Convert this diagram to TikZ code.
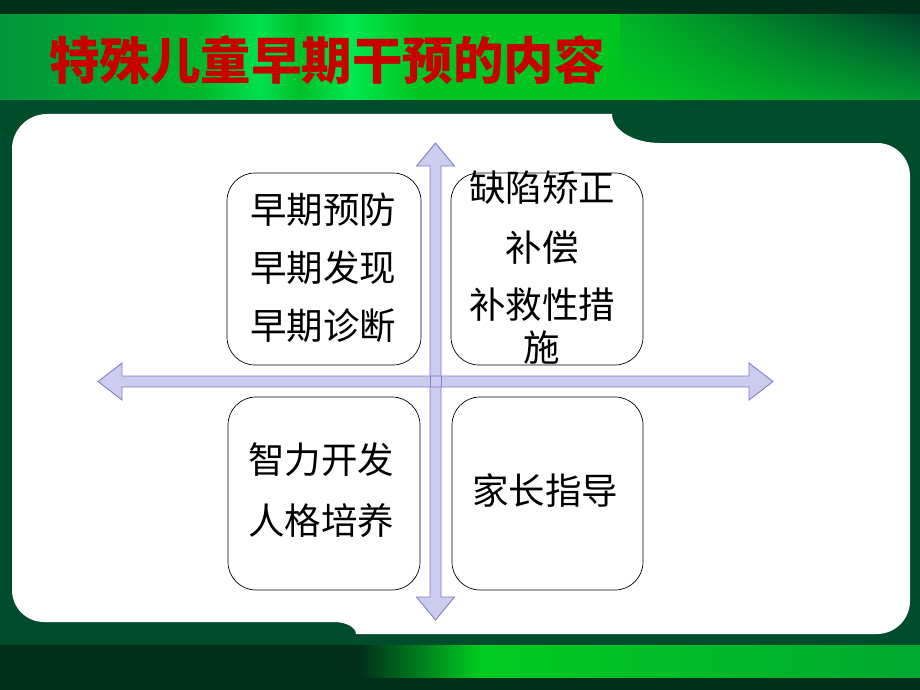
\documentclass[tikz,border=0pt]{standalone}
\usepackage{fontspec}
\usetikzlibrary{shadings}
\newfontfamily\cjk{Noto Sans CJK SC}
\definecolor{topdark}{HTML}{00301A}
\definecolor{paneldark}{HTML}{004D2E}
\definecolor{arrowfill}{HTML}{CCCCEE}
\definecolor{arrowline}{HTML}{7F7FCC}
\definecolor{titlered}{HTML}{C80000}
\begin{document}
\begin{tikzpicture}[x=1pt,y=-1pt,
  arrowshape/.style={fill=arrowfill, draw=arrowline, line width=0.9pt, line join=miter},
  quad/.style={draw=black, line width=0.7pt, fill=white, rounded corners=28pt,
    minimum width=192pt, minimum height=192pt, inner sep=0pt},
  qtext/.style={align=center, inner sep=0pt, text=black}]
\useasboundingbox (0,0) rectangle (920,690);
% background
\fill[topdark] (0,0) rectangle (920,690);
\fill[paneldark] (0,100) rectangle (920,645);
% top green band
\shade[left color={rgb,255:red,0;green,150;blue,60}, right color={rgb,255:red,0;green,184;blue,42}] (0,15) rectangle (200.5,100);
\shade[left color={rgb,255:red,0;green,184;blue,42}, right color={rgb,255:red,0;green,224;blue,80}] (200,15) rectangle (260.5,100);
\shade[left color={rgb,255:red,0;green,224;blue,80}, right color={rgb,255:red,0;green,192;blue,40}] (260,15) rectangle (300.5,100);
\shade[left color={rgb,255:red,0;green,192;blue,40}, right color={rgb,255:red,0;green,232;blue,80}] (300,15) rectangle (350.5,100);
\shade[left color={rgb,255:red,0;green,232;blue,80}, right color={rgb,255:red,0;green,196;blue,32}] (350,15) rectangle (420.5,100);
\shade[left color={rgb,255:red,0;green,196;blue,32}, right color={rgb,255:red,0;green,196;blue,32}] (420,15) rectangle (620.5,100);
\shade[upper left={rgb,255:red,0;green,180;blue,40}, lower left={rgb,255:red,0;green,200;blue,32},
       upper right={rgb,255:red,0;green,64;blue,44}, lower right={rgb,255:red,0;green,150;blue,50}] (620,15) rectangle (920,100);
% bottom green band
\shade[left color=topdark, right color={rgb,255:red,0;green,204;blue,32}] (360,645) rectangle (480.5,677);
\shade[left color={rgb,255:red,0;green,204;blue,32}, right color={rgb,255:red,0;green,168;blue,48}] (480,645) rectangle (920,677);
% white panel
\fill[white] (47,114) -- (612,114)
  .. controls (612,130) and (633.5,143) .. (660,143)
  -- (877,143) .. controls (895.2,143) and (910,157.8) .. (910,176)
  -- (910,601) .. controls (910,619.2) and (895.2,634) .. (877,634)
  -- (356,634) .. controls (356,627.4) and (346.2,622) .. (334,622)
  -- (44,622) .. controls (26.3,622) and (12,607.7) .. (12,590)
  -- (12,149) .. controls (12,129.7) and (27.7,114) .. (47,114) -- cycle;
% title
\node[anchor=west, text=titlered, font=\cjk\bfseries\fontsize{50.5}{50.5}\selectfont, inner sep=0pt] (title) at (49,60) {特殊儿童早期干预的内容};
% axes (block arrows)
\coordinate (vtop) at (435.5,143);
\coordinate (vbot) at (435.5,620);
\coordinate (hleft) at (98,381.5);
\coordinate (hright) at (773,381.5);
\path[arrowshape] (vtop) -- (454.5,166) -- (441,166) -- (441,597) -- (454.5,597) -- (vbot)
  -- (416.5,597) -- (430,597) -- (430,166) -- (416.5,166) -- cycle;
\path[arrowshape] (hleft) -- (122,363) -- (122,376) -- (749,376) -- (749,363) -- (hright)
  -- (749,400) -- (749,387) -- (122,387) -- (122,400) -- cycle;
\draw[arrowline, line width=0.9pt] (441,376) -- (441,387) (430,376) -- (430,387);
% quadrant boxes
\node[quad, minimum width=194pt] (tl) at (324,269) {};
\node[quad] (tr) at (547,269) {};
\node[quad, minimum height=193pt] (bl) at (324,493.5) {};
\node[quad, minimum width=191pt, minimum height=193pt] (br) at (547.5,493.5) {};
\node[qtext, font=\cjk\fontsize{36.5}{58}\selectfont] (tltext) at (323,268) {早期预防\\早期发现\\早期诊断};
\node[qtext, font=\cjk\fontsize{36.5}{43}\selectfont] (trtext) at (542,268) {缺陷矫正\\[17pt]补偿\\[14pt]补救性措\\施};
\node[qtext, font=\cjk\fontsize{36.5}{61}\selectfont] (bltext) at (321,490) {智力开发\\人格培养};
\node[qtext, font=\cjk\fontsize{36.5}{43}\selectfont] (brtext) at (545,490) {家长指导};
\end{tikzpicture}
\end{document}
